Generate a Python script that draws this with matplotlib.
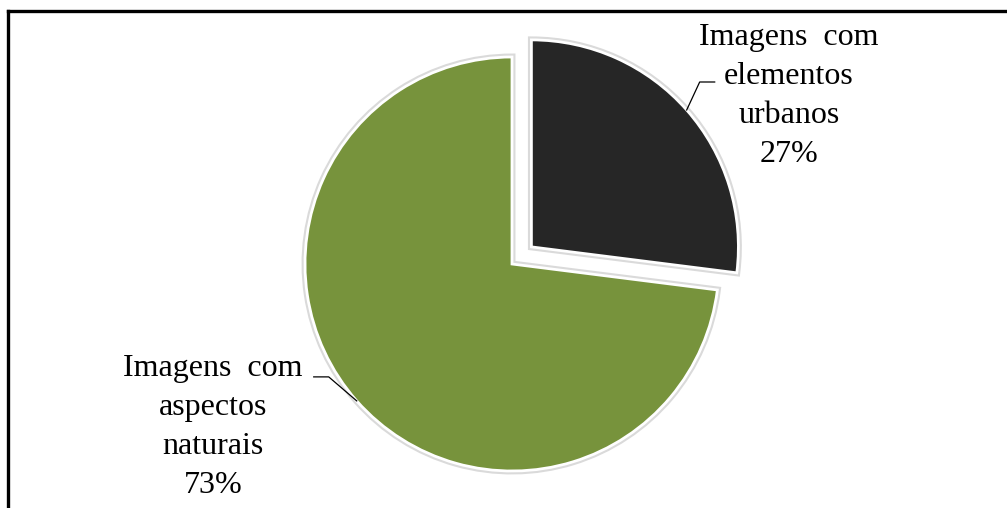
import numpy as np
import matplotlib
matplotlib.use("Agg")
import matplotlib.pyplot as plt
from matplotlib.lines import Line2D

# data
labels = ["Imagens  com\nelementos\nurbanos", "Imagens  com\naspectos\nnaturais"]
values = [27, 73]
colors = ["#262626", "#77933C"]
explode = [0.125, 0]

W, H = 1007, 508
fig = plt.figure(figsize=(W / 100, H / 100), dpi=100)
ax = fig.add_axes([0, 0, 1, 1])

cx, cy, r = 512, H - 264, 207


def draw_pie(ec, lw):
    # explode is in data units here, so scale by radius
    return ax.pie(values, colors=colors, explode=[e * r for e in explode],
                  startangle=90, counterclock=False, center=(cx, cy), radius=r,
                  wedgeprops=dict(edgecolor=ec, linewidth=lw))


# soft shadow then white border
draw_pie("#dadada", 5)
wedges, _ = draw_pie("white", 2)

ax.set_xlim(0, W)
ax.set_ylim(0, H)
ax.set_aspect("auto")
ax.axis("off")

font = dict(family="Liberation Serif", fontsize=23, color="black",
            ha="center", va="center", linespacing=1.45)

# label positions (px) and elbow offsets
label_pos = [(789, H - 96), (213, H - 427)]
elbows = [[(13, 28), (28, 28)], [(-28, 24), (-43, 24)]]

for w, lab, val, pos, elb in zip(wedges, labels, values, label_pos, elbows):
    ang = np.deg2rad((w.theta1 + w.theta2) / 2)
    x0 = w.center[0] + w.r * np.cos(ang)
    y0 = w.center[1] + w.r * np.sin(ang)
    xs = [x0] + [x0 + dx for dx, dy in elb]
    ys = [y0] + [y0 + dy for dx, dy in elb]
    ax.plot(xs, ys, color="black", lw=0.9)
    ax.text(pos[0], pos[1], f"{lab}\n{val}%", **font)

# outer frame (only top and left edges visible)
fig.add_artist(Line2D([8 / W, 1], [1 - 11 / H, 1 - 11 / H], color="black", lw=2.4,
                      transform=fig.transFigure))
fig.add_artist(Line2D([8 / W, 8 / W], [0, 1 - 11 / H], color="black", lw=2.4,
                      transform=fig.transFigure))

fig.savefig("out.png", dpi=100)
